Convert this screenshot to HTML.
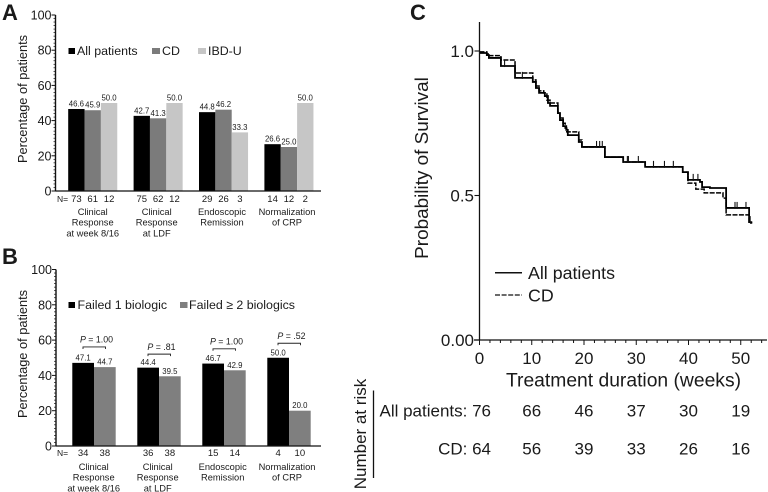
<!DOCTYPE html>
<html lang="en">
<head>
<meta charset="utf-8">
<title>Clinical response and survival charts</title>
<style>
html,body{margin:0;padding:0;background:#fff;width:768px;height:492px;overflow:hidden}
svg{display:block;filter:blur(0.3px)}
text{font-family:"Liberation Sans",Arial,sans-serif;fill:#1a1a1a}
</style>
</head>
<body>
<svg id="fig" xmlns="http://www.w3.org/2000/svg" width="768" height="492" viewBox="0 0 768 492"></svg>
<script>
// Panel A data
const categoriesA = [["Clinical","Response","at week 8/16"],["Clinical","Response","at LDF"],["Endoscopic","Remission"],["Normalization","of CRP"]];
const allPatientsPct = [46.6, 42.7, 44.8, 26.6];
const cdPct = [45.9, 41.3, 46.2, 25.0];
const ibduPct = [50.0, 50.0, 33.3, 50.0];
const allPatientsN = [73, 75, 29, 14];
const cdN = [61, 62, 26, 12];
const ibduN = [12, 12, 3, 2];
// Panel B data
const categoriesB = [["Clinical","Response","at week 8/16"],["Clinical","Response","at LDF"],["Endoscopic","Remission"],["Normalization","of CRP"]];
const failedOnePct = [47.1, 44.4, 46.7, 50.0];
const failedTwoPct = [44.7, 39.5, 42.9, 20.0];
const failedOneN = [34, 36, 15, 4];
const failedTwoN = [38, 38, 14, 10];
const pLabels = [" = 1.00", " = .81", " = 1.00", " = .52"];
const yTicksPct = [0, 20, 40, 60, 80, 100];
// Panel C data
const allWeeks = [0, 1.4, 1.8, 4.1, 6.8, 10.2, 10.8, 11.4, 12.5, 13.1, 13.5, 15.0, 15.4, 16.0, 16.6, 16.9, 19.0, 19.6, 24.0, 27.5, 31.7, 38.9, 39.9, 42.2, 42.6, 44.1, 47.2, 51.6];
const allSurvival = [0.993, 0.986, 0.976, 0.948, 0.907, 0.893, 0.872, 0.855, 0.844, 0.82, 0.81, 0.785, 0.761, 0.74, 0.727, 0.709, 0.685, 0.668, 0.633, 0.616, 0.599, 0.581, 0.554, 0.547, 0.529, 0.526, 0.457, 0.408];
const cdWeeks = [0, 1.4, 1.8, 4.1, 6.8, 10.2, 10.8, 11.4, 12.3, 12.9, 13.5, 15.0, 15.4, 16.0, 16.4, 16.7, 19.0, 19.6, 24.0, 27.5, 31.7, 38.9, 39.9, 41.4, 43.0, 46.6, 47.2, 51.6];
const cdSurvival = [0.997, 0.99, 0.984, 0.969, 0.924, 0.9, 0.879, 0.862, 0.855, 0.83, 0.82, 0.789, 0.768, 0.75, 0.733, 0.72, 0.692, 0.668, 0.633, 0.616, 0.599, 0.581, 0.543, 0.522, 0.509, 0.491, 0.433, 0.405];
const censorWeeks = [4.8, 8.2, 22.4, 23.0, 23.5, 28.3, 28.5, 30.4, 33.3, 35.4, 37.1, 40.9, 41.8, 48.9, 49.3, 51.0, 51.8];
const weekTicks = [0, 10, 20, 30, 40, 50];
const riskAll = [76, 66, 46, 37, 30, 19];
const riskCd = [64, 56, 39, 33, 26, 16];

const NS = "http://www.w3.org/2000/svg";
const fig = document.getElementById("fig");
function mk(tag, attrs, parent) {
  const e = document.createElementNS(NS, tag);
  for (const k in attrs) e.setAttribute(k, attrs[k]);
  (parent || fig).appendChild(e);
  return e;
}
function txt(str, x, y, size, anchor, parent) {
  const e = mk("text", {x: x, y: y, "font-size": size, "text-anchor": anchor || "middle"}, parent);
  e.textContent = str;
  return e;
}
function line(x1, y1, x2, y2, w, parent) {
  return mk("line", {x1: x1, y1: y1, x2: x2, y2: y2, stroke: "#111", "stroke-width": w}, parent);
}
function fmt(v) { return v.toFixed(1); }

// Bar panel builder
function barPanel(cfg) {
  const g = mk("g", {});
  
  
  const yOf = v => cfg.y0 - v * (cfg.y0 - cfg.y100) / 100;
  const xOf = (group, s) => cfg.x0 + group * cfg.step + s * cfg.barW;

  cfg.series.forEach((s, si) => {
    s.values.forEach((v, i) => {
      const b = mk("rect", {x: xOf(i, si), y: yOf(v), width: cfg.barW, height: cfg.y0 - yOf(v), fill: s.color}, g);
      
      
      const t = txt(fmt(v), xOf(i, si) + cfg.barW / 2, yOf(v) - 2.5, 7.8, "middle", g);
      
      
      const n = txt(String(s.n[i]), xOf(i, si) + cfg.barW / 2, cfg.nY, 9.5, "middle", g);
      
      
    });
  });

  const ya = line(cfg.axisX, cfg.y100, cfg.axisX, cfg.y0 + 0.5, 1.4, g);
  
  
  const xa = line(cfg.axisX, cfg.y0, 321, cfg.y0, 1.2, g);
  
  
  for (let v = 0; v <= 100; v += 2) {
    const major = yTicksPct.includes(v);
    const mt = line(cfg.axisX - (major ? 4 : 2), yOf(v), cfg.axisX, yOf(v), major ? 1 : 0.7, g);
    
    
  }
  yTicksPct.forEach(v => {
    const t = txt(String(v), cfg.axisX - 4, yOf(v) + 4.5, 12.5, "end", g);
    
    
  });
  const nl = txt("N=", 62.5, cfg.nY, 8.5, "middle", g);
  
  
  const title = txt("Percentage of patients", 0, 0, 12.8, "middle", g);
  title.setAttribute("transform", "translate(27," + cfg.titleY + ") rotate(-90)");
  
  
  cfg.cats.forEach((lines, i) => {
    lines.forEach((l, j) => {
      const t = txt(l, cfg.catX[i], cfg.catY + j * 10.7, 9.3, "middle", g);
      
      
    });
  });
  cfg.legend.forEach(l => {
    const sq = mk("rect", {x: l.sx, y: cfg.legY - 7, width: l.sw, height: 6, fill: l.color}, g);
    
    
    const t = txt(l.label, l.tx, cfg.legY, 12.4, "start", g);
    
    
  });
}

barPanel({
  name: "panel-a-bar-chart", x0: 68.2, step: 65.4, barW: 16.35, axisX: 55.5, y0: 191, y100: 15, nY: 202,
  titleY: 99, catX: [92.7, 156.7, 222, 287], catY: 215, legY: 55, cats: categoriesA,
  series: [
    {key: "all-patients", color: "#000", values: allPatientsPct, n: allPatientsN},
    {key: "cd", color: "#7b7b7b", values: cdPct, n: cdN},
    {key: "ibd-u", color: "#c6c6c6", values: ibduPct, n: ibduN}
  ],
  legend: [
    {key: "all-patients", label: "All patients", color: "#000", sx: 68.5, sw: 6.5, tx: 77},
    {key: "cd", label: "CD", color: "#7b7b7b", sx: 152, sw: 8, tx: 162},
    {key: "ibd-u", label: "IBD-U", color: "#c6c6c6", sx: 198, sw: 8, tx: 208}
  ]
});
barPanel({
  name: "panel-b-bar-chart", x0: 72.3, step: 65, barW: 21.7, axisX: 56, y0: 446, y100: 269.5, nY: 456,
  titleY: 354, catX: [93.7, 157.7, 222.7, 287], catY: 470, legY: 309, cats: categoriesB,
  series: [
    {key: "failed-1-biologic", color: "#000", values: failedOnePct, n: failedOneN},
    {key: "failed-2-biologics", color: "#7f7f7f", values: failedTwoPct, n: failedTwoN}
  ],
  legend: [
    {key: "failed-1", label: "Failed 1 biologic", color: "#000", sx: 68.5, sw: 6.5, tx: 77.5},
    {key: "failed-2", label: "Failed \u2265 2 biologics", color: "#7f7f7f", sx: 180, sw: 7.5, tx: 189}
  ]
});

// P-value brackets in panel B: placed just above the taller bar of each group
const bracketRise = [-0.6, -3, -1.7, -2];
const pG = mk("g", {});


pLabels.forEach((p, i) => {
  const yOf = v => 446 - v * 1.765;
  const top = yOf(Math.max(failedOnePct[i], failedTwoPct[i]));
  const by = top - 16.5 - bracketRise[i];
  const cx = 72.3 + i * 65 + 21.7;
  const br = mk("path", {d: "M" + (cx - 11) + " " + (by + 2) + "V" + by + "H" + (cx + 11.5) + "V" + (by + 2), fill: "none", stroke: "#222", "stroke-width": 0.9}, pG);
  
  
  const t = mk("text", {x: cx + 2.5, y: by - 4.3, "font-size": 8.8, "text-anchor": "middle"}, pG);
  
  
  const it = mk("tspan", {"font-style": "italic"}, t);
  it.textContent = "P";
  const rest = mk("tspan", {}, t);
  rest.textContent = p;
});

// Panel letters
[["A", 2, 20], ["B", 2, 264], ["C", 410, 20]].forEach(a => {
  const t = txt(a[0], a[1], a[2], 22, "start");
  t.setAttribute("font-weight", "bold");
  t.setAttribute("fill", "#000");
  
  
});

// Panel C
const xW = w => 479.5 + w * 5.225;
const yS = s => 340 - s * 289;
const cG = mk("g", {});



function stepPath(ws, ss) {
  let d = "M" + xW(ws[0]) + " " + yS(ss[0]);
  for (let i = 1; i < ws.length; i++) {
    d += "H" + xW(ws[i]) + "V" + yS(ss[i]);
  }
  return d;
}
function stepValue(ws, ss, w) {
  let v = ss[0];
  for (let i = 0; i < ws.length; i++) if (ws[i] <= w) v = ss[i];
  return v;
}
const cdLine = mk("path", {d: stepPath(cdWeeks, cdSurvival) + "H" + xW(52.2), fill: "none", stroke: "#000", "stroke-width": 1.5, "stroke-dasharray": "5 1.4"}, cG);


const allLine = mk("path", {d: stepPath(allWeeks, allSurvival) + "H" + xW(52.2), fill: "none", stroke: "#000", "stroke-width": 1.8}, cG);


censorWeeks.forEach(w => {
  const v = stepValue(allWeeks, allSurvival, w);
  const c = line(xW(w), yS(v) - 6, xW(w), yS(v) + 1, 1.1, cG);
  
  
});

const cYAxis = line(479.5, 22, 479.5, 340.5, 1.3, cG);


const cXAxis = line(474, 340, 767, 340, 1.2, cG);


[[1, "1.0"], [0.5, "0.5"], [0, "0.00"]].forEach(p => {
  const tk = line(474.5, yS(p[0]), 479.5, yS(p[0]), 1.1, cG);
  
  
  const t = txt(p[1], 474, yS(p[0]) + 6, 17, "end", cG);
  
  
});
for (let w = 0; w <= 54; w += 2) {
  const major = weekTicks.includes(w);
  const tk = line(xW(w), 340, xW(w), 340 + (major ? 5 : 3), 1, cG);
  
  
}
weekTicks.forEach(w => {
  const t = txt(String(w), xW(w), 364, 17, "middle", cG);
  
  
});
const cXTitle = txt("Treatment duration (weeks)", 623.5, 386.5, 19.3, "middle", cG);


const cYTitle = txt("Probability of Survival", 0, 0, 18.9, "middle", cG);
cYTitle.setAttribute("transform", "translate(428,168) rotate(-90)");



const legSolid = line(495, 272.7, 522, 272.7, 1.5, cG);


const legSolidT = txt("All patients", 528, 279, 17.8, "start", cG);


const legDash = line(495, 295, 522, 295, 1.3, cG);
legDash.setAttribute("stroke-dasharray", "5 1.6");


const legDashT = txt("CD", 528, 301.5, 17.8, "start", cG);



// Number at risk table
const rG = mk("g", {});


const rT = txt("Number at risk", 0, 0, 17, "middle", rG);
rT.setAttribute("transform", "translate(366,434) rotate(-90)");


const rL = line(373.5, 390.5, 373.5, 478, 1.3, rG);


[["All patients: ", riskAll, 416.7, "all-patients"], ["CD: ", riskCd, 454.7, "cd"]].forEach(row => {
  row[1].forEach((v, i) => {
    const label = i === 0 ? row[0] + v : String(v);
    const t = i === 0 ? txt(label, 491, row[2], 17, "end", rG) : txt(label, xW(weekTicks[i]), row[2], 17, "middle", rG);
    
    
  });
});
</script>
</body>
</html>
